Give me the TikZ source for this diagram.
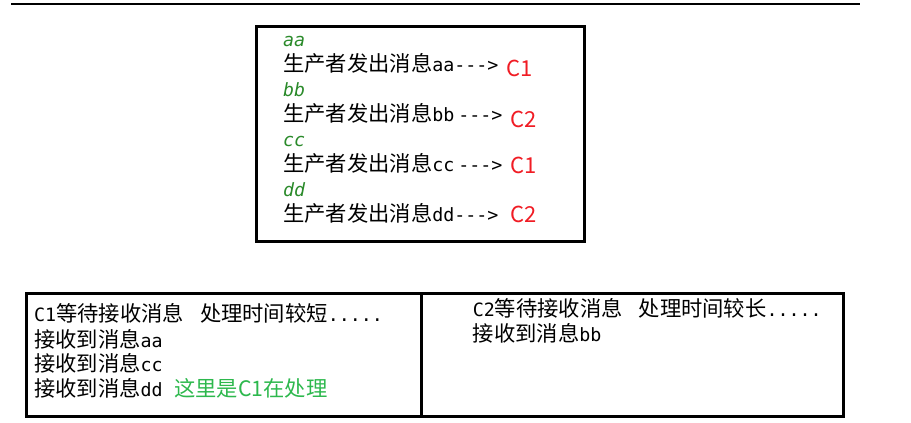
\documentclass[tikz,border=0pt]{standalone}
\usepackage{fontspec}
\setmainfont{Noto Sans CJK SC}
\newfontfamily\asciifont[Scale=0.86,Ligatures=TeXOff]{DejaVu Sans Mono}
\usetikzlibrary{positioning}
\definecolor{msgred}{HTML}{F01C24}
\definecolor{keygreen}{HTML}{2A8A2A}
\definecolor{notegreen}{HTML}{2DB84D}
\tikzset{
  frame/.style={line width=3pt, draw=black},
  rule/.style={line width=2pt, draw=black},
  msg/.style={anchor=base west, inner sep=0pt, font=\fontsize{21.3}{25}\selectfont},
  key/.style={msg, text=keygreen, font=\fontsize{21.3}{25}\selectfont\asciifont\itshape},
  target/.style={msg, text=msgred, font=\fontsize{22}{26}\selectfont},
  log/.style={msg, font=\fontsize{21.3}{24}\selectfont},
  note/.style={log, text=notegreen},
}

\begin{document}
\begin{tikzpicture}[x=1pt, y=-1pt]
  \useasboundingbox (0,0) rectangle (911,423);
  % page rule
  \draw[rule] (11,4) -- (860,4);
  % producer box
  \draw[frame] (256.5,26.5) rectangle (584,241.5);
  \foreach \k/\tail/\c/\cx/\cy [count=\i] in {aa/aa--->/C1/506/76, bb/bb\hspace{4pt}--->/C2/510/127,
      cc/cc\hspace{4pt}--->/C1/510/173, dd/dd--->/C2/510/222.7}{
    \pgfmathsetmacro{\ky}{46.7+49.8*(\i-1)}
    \node[key] (key\i) at (283,\ky) {\k};
    \node[msg] (send\i) at (283,\ky+25) {生产者发出消息{\asciifont\tail}};
    \node[target] (dest\i) at (\cx,\cy) {\c};
  }
  % consumer boxes
  \draw[frame] (26.5,293) rectangle (843,416.5);
  \draw[frame] (421,293) -- (421,416.5);
  % C1
  \node[log] (wait1) at (34,321.7) {{\asciifont C1}等待接收消息\hspace{16pt}处理时间较短{\asciifont .....}};
  \node[log] (recv1) at (34,347.7) {接收到消息{\asciifont aa}};
  \node[log] (recv3) at (34,371.5) {接收到消息{\asciifont cc}};
  \node[log] (recv4) at (34,396) {接收到消息{\asciifont dd}};
  \node[note] (busy1) at (174,396) {这里是C1在处理};
  % C2
  \node[log] (wait2) at (472.7,316.7) {{\asciifont C2}等待接收消息\hspace{16pt}处理时间较长{\asciifont .....}};
  \node[log] (recv2) at (472.7,341.7) {接收到消息{\asciifont bb}};
\end{tikzpicture}
\end{document}
